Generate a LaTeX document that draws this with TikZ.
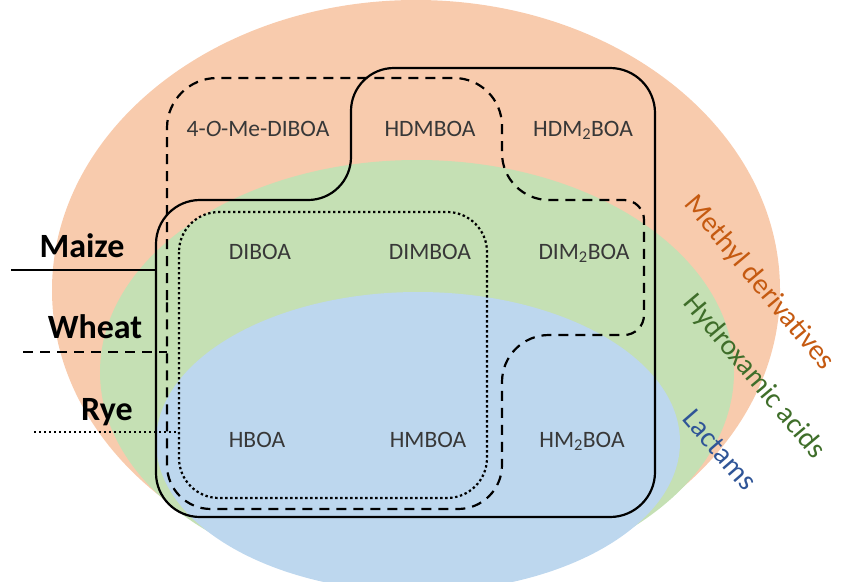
\documentclass[tikz,border=0pt]{standalone}
\usepackage{fontspec}
\setmainfont{Carlito}
\definecolor{orangefill}{HTML}{F8CBAD}
\definecolor{greenfill}{HTML}{C5E0B4}
\definecolor{bluefill}{HTML}{BDD7EE}
\definecolor{methylcol}{HTML}{C55A11}
\definecolor{hydrocol}{HTML}{3F6E2A}
\definecolor{lactcol}{HTML}{2F5597}
\definecolor{txtcol}{HTML}{383838}
\begin{document}
\begin{tikzpicture}[x=1pt,y=-1pt,
  cmpd/.style={text=txtcol, font=\fontsize{23.5}{28}\selectfont, inner sep=0pt, anchor=base},
  croplabel/.style={font=\bfseries\fontsize{34}{40}\selectfont, inner sep=0pt, text=black, anchor=base},
  grp/.style={font=\fontsize{29}{35}\selectfont, inner sep=0pt, rotate=-50},
  maizeline/.style={line width=2.2pt},
  wheatline/.style={line width=2.2pt, dash pattern=on 10pt off 7pt},
  ryeline/.style={line width=2.2pt, dash pattern=on 2.4pt off 2.6pt},
]
\useasboundingbox (0,0) rectangle (842,581);
\clip (0,0) rectangle (842,581);

% group ellipses
\fill[orangefill] (416,290) ellipse [x radius=364, y radius=290];
\fill[greenfill] (417,372) ellipse [x radius=317, y radius=212];
\fill[bluefill] (418,442) ellipse [x radius=262, y radius=150];

% Maize (solid)
\draw[maizeline] (156,300) -- (156,244)
  arc[start angle=180, end angle=270, radius=44] -- (308,200)
  arc[start angle=90, end angle=0, radius=43] -- (351,111)
  arc[start angle=180, end angle=270, radius=43] -- (610,68)
  arc[start angle=270, end angle=360, radius=45] -- (655,472)
  arc[start angle=0, end angle=90, radius=45] -- (200,517)
  arc[start angle=90, end angle=180, radius=44] -- cycle;

% Wheat (dashed)
\draw[wheatline] (167,300) -- (167,128)
  arc[start angle=180, end angle=270, radius=50] -- (454,78)
  arc[start angle=270, end angle=360, radius=48] -- (502,153)
  arc[start angle=180, end angle=90, radius=47] -- (624,200)
  arc[start angle=270, end angle=360, radius=20] -- (644,315)
  arc[start angle=0, end angle=90, radius=20] -- (549,335)
  arc[start angle=270, end angle=180, radius=47] -- (502,465)
  arc[start angle=0, end angle=90, radius=44] -- (211,509)
  arc[start angle=90, end angle=180, radius=44] -- cycle;

% Rye (dotted)
\draw[ryeline, rounded corners=40pt] (179,212) rectangle (487,498);

% compounds
\node[cmpd] (c1) at (258,136) {4-\textit{O}-Me-DIBOA};
\node[cmpd] (c2) at (430,136) {HDMBOA};
\node[cmpd] (c3) at (583,136) {HDM\textsubscript{2}BOA};
\node[cmpd] (c4) at (260,259) {DIBOA};
\node[cmpd] (c5) at (430,259) {DIMBOA};
\node[cmpd] (c6) at (584,259) {DIM\textsubscript{2}BOA};
\node[cmpd] (c7) at (257,447) {HBOA};
\node[cmpd] (c8) at (428,447) {HMBOA};
\node[cmpd] (c9) at (582,447) {HM\textsubscript{2}BOA};

% crop labels
\node[croplabel] (maize) at (82,257) {Maize};
\node[croplabel] (wheat) at (95,338) {Wheat};
\node[croplabel] (rye) at (107,420) {Rye};
\coordinate (maizeA) at (11,270);
\coordinate (maizeB) at (156,270);
\coordinate (wheatA) at (23,352);
\coordinate (wheatB) at (167,352);
\coordinate (ryeA) at (34,432);
\coordinate (ryeB) at (179,432);
\draw[maizeline] (maizeA) -- (maizeB);
\draw[wheatline] (wheatA) -- (wheatB);
\draw[ryeline] (ryeA) -- (ryeB);

% group labels
\node[grp, text=methylcol] (methyl) at (759,283) {Methyl derivatives};
\node[grp, text=hydrocol] (hydro) at (754,377) {Hydroxamic acids};
\node[grp, text=lactcol, rotate=1] (lact) at (720,450) {Lactams};
\end{tikzpicture}
\end{document}
